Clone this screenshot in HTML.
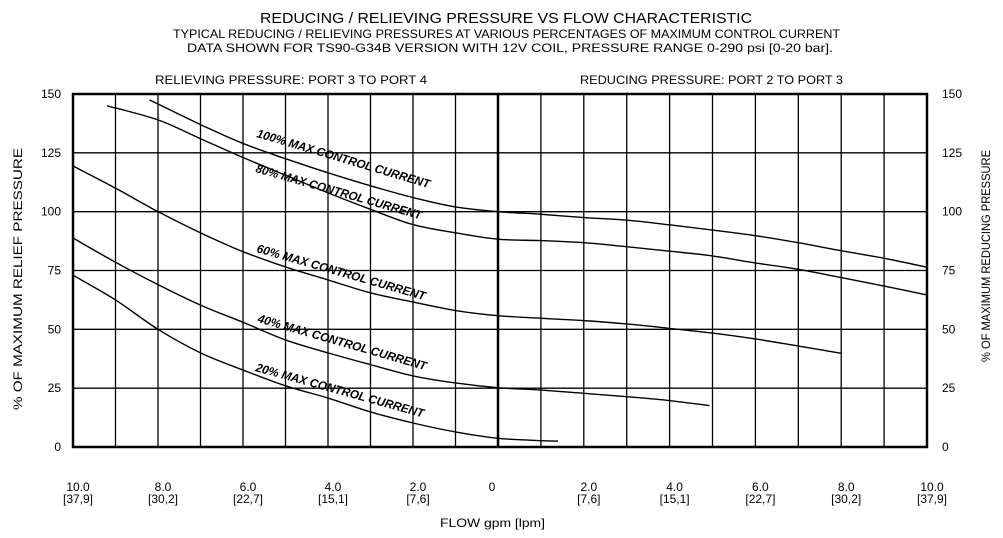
<!DOCTYPE html>
<html><head><meta charset="utf-8"><style>
html,body{margin:0;padding:0;background:#fff}
svg{display:block}
text{font-family:"Liberation Sans",sans-serif;fill:#000}
</style></head><body>
<svg id="chart" width="1003" height="538" viewBox="0 0 1003 538" xmlns="http://www.w3.org/2000/svg">
<text x="260" y="23" font-size="15" textLength="492" lengthAdjust="spacingAndGlyphs">REDUCING / RELIEVING PRESSURE VS FLOW CHARACTERISTIC</text>
<text x="173" y="38" font-size="12" textLength="667" lengthAdjust="spacingAndGlyphs">TYPICAL REDUCING / RELIEVING PRESSURES AT VARIOUS PERCENTAGES OF MAXIMUM CONTROL CURRENT</text>
<text x="187" y="52" font-size="12" textLength="646" lengthAdjust="spacingAndGlyphs">DATA SHOWN FOR TS90-G34B VERSION WITH 12V COIL, PRESSURE RANGE 0-290 psi [0-20 bar].</text>
<text x="155" y="84" font-size="12" textLength="272" lengthAdjust="spacingAndGlyphs">RELIEVING PRESSURE: PORT 3 TO PORT 4</text>
<text x="580" y="84" font-size="12" textLength="263" lengthAdjust="spacingAndGlyphs">REDUCING PRESSURE: PORT 2 TO PORT 3</text>
<g id="grid"></g>
<g id="axes"></g>
<g id="series"></g>
<text font-size="12" font-weight="bold" font-style="italic" transform="translate(256,137) rotate(16.5)" textLength="180" lengthAdjust="spacingAndGlyphs">100% MAX CONTROL CURRENT</text>
<text font-size="12" font-weight="bold" font-style="italic" transform="translate(255,172) rotate(16)" textLength="172" lengthAdjust="spacingAndGlyphs">80% MAX CONTROL CURRENT</text>
<text font-size="12" font-weight="bold" font-style="italic" transform="translate(256,252) rotate(16)" textLength="175" lengthAdjust="spacingAndGlyphs">60% MAX CONTROL CURRENT</text>
<text font-size="12" font-weight="bold" font-style="italic" transform="translate(257,322) rotate(16)" textLength="175" lengthAdjust="spacingAndGlyphs">40% MAX CONTROL CURRENT</text>
<text font-size="12" font-weight="bold" font-style="italic" transform="translate(255,371) rotate(15.5)" textLength="174" lengthAdjust="spacingAndGlyphs">20% MAX CONTROL CURRENT</text>
<text font-size="12" transform="translate(22,410) rotate(-90)" textLength="262" lengthAdjust="spacingAndGlyphs">% OF MAXIMUM RELIEF PRESSURE</text>
<text font-size="12" transform="translate(990,362) rotate(-90)" textLength="212" lengthAdjust="spacingAndGlyphs">% OF MAXIMUM REDUCING PRESSURE</text>
<text x="440" y="527" font-size="12" textLength="105" lengthAdjust="spacingAndGlyphs">FLOW gpm [lpm]</text>
</svg>
<script>
const yTicks = [0, 25, 50, 75, 100, 125, 150];
const xTickFlows = [10, 8, 6, 4, 2, 0];
const xTickLpm = ["[37,9]", "[30,2]", "[22,7]", "[15,1]", "[7,6]", ""];
// signed flow: negative = relieving side (left), positive = reducing side (right)
const flow100 = [-8.2, -7, -6, -5, -4, -3, -2, -1, 0, 1, 2, 3, 4, 5, 6, 7, 8, 9, 10];
const pct100 = [147.5, 137, 129, 122.5, 116.5, 111, 106, 102, 100, 98.9, 97.5, 96.4, 94.4, 92.2, 89.8, 86.8, 83.4, 80.2, 76.4];
const flow80 = [-9.2, -8, -7, -6, -5, -4, -3, -2, -1, 0, 1, 2, 3, 4, 5, 6, 7, 8, 9, 10];
const pct80 = [145, 139, 131, 123, 115.5, 108, 101, 94.5, 91, 88.3, 87.7, 86.8, 85.1, 83.2, 81.2, 78.2, 75.5, 72, 68.4, 64.6];
const flow60 = [-10, -9, -8, -7, -6, -5, -4, -3, -2, -1, 0, 1, 2, 3, 4, 5, 6, 7, 8];
const pct60 = [119.4, 110, 100, 91, 83, 76.5, 71, 65.5, 61.6, 58, 55.8, 54.7, 53.7, 52.3, 50.4, 48.4, 45.9, 42.9, 39.8];
const flow40 = [-10, -9, -8, -7, -6, -5, -4, -3, -2, -1, 0, 1, 2, 3, 4, 4.93];
const pct40 = [88.8, 78.5, 69, 60.3, 53, 45.5, 40, 35, 30.2, 27.2, 25.2, 24.2, 22.8, 21.4, 19.7, 17.6];
const flow20 = [-10, -9, -8, -7, -6, -5, -4, -3, -2, -1, 0, 1, 1.4];
const pct20 = [73, 62.5, 50, 40, 32.7, 26, 20.8, 14.9, 10.2, 6.4, 3.7, 2.7, 2.5];

const X0 = 498, LEFT = 73, RIGHT = 927, TOP = 94, BOT = 447;
function xs(f){ return f < 0 ? X0 + f * (X0 - LEFT) / 10 : X0 + f * (RIGHT - X0) / 10; }
function ys(v){ return BOT - v * (BOT - TOP) / 150; }
const NS = "http://www.w3.org/2000/svg";
function mk(tag, parent, attrs){ const e = document.createElementNS(NS, tag); for (const k in attrs) e.setAttribute(k, attrs[k]); parent.appendChild(e); return e; }

const grid = document.getElementById('grid');
for (let g = -9; g <= 9; g++) {
  if (g === 0) continue;
  const l = mk('line', grid, {x1: xs(g), x2: xs(g), y1: TOP, y2: BOT, stroke: '#000', 'stroke-width': 1.3});
  
  
}
yTicks.forEach(v => {
  if (v === 0 || v === 150) return;
  const l = mk('line', grid, {x1: LEFT, x2: RIGHT, y1: ys(v), y2: ys(v), stroke: '#000', 'stroke-width': 1.3});
  
  
});

const axes = document.getElementById('axes');
const frame = mk('rect', axes, {x: LEFT, y: TOP, width: RIGHT - LEFT, height: BOT - TOP, fill: 'none', stroke: '#000', 'stroke-width': 2.5});


const zl = mk('line', axes, {x1: xs(0), x2: xs(0), y1: TOP, y2: BOT, stroke: '#000', 'stroke-width': 2.5});



yTicks.forEach(v => {
  const t1 = mk('text', axes, {x: 61, y: ys(v) + 4, 'font-size': 12, 'text-anchor': 'end'});
  t1.textContent = String(v);
  
  
  const t2 = mk('text', axes, {x: 942, y: ys(v) + 4, 'font-size': 12});
  t2.textContent = String(v);
  
  
});
xTickFlows.forEach((f, i) => {
  [-1, 1].forEach(side => {
    if (f === 0 && side === 1) return;
    const x = xs(side * f) + (f === 0 ? -6 : side === 1 ? 5 : 5);
    const t = mk('text', axes, {x: x, y: 491, 'font-size': 12, 'text-anchor': 'middle'});
    t.textContent = f === 0 ? "0" : f.toFixed(1);
    
    
    if (xTickLpm[i]) {
      const t2 = mk('text', axes, {x: x, y: 503, 'font-size': 12, 'text-anchor': 'middle'});
      t2.textContent = xTickLpm[i];
      
      
    }
  });
});

const series = document.getElementById('series');
function curve(fl, pc, name){
  let d = '';
  for (let i = 0; i < fl.length; i++) {
    const x = xs(fl[i]), y = ys(pc[i]);
    if (i === 0) { d += 'M' + x + ' ' + y; continue; }
    const x0 = xs(fl[i-1]), y0 = ys(pc[i-1]);
    const xp = i > 1 ? xs(fl[i-2]) : x0, yp = i > 1 ? ys(pc[i-2]) : y0;
    const xn = i < fl.length - 1 ? xs(fl[i+1]) : x, yn = i < fl.length - 1 ? ys(pc[i+1]) : y;
    const c1x = x0 + (x - xp) / 6, c1y = y0 + (y - yp) / 6;
    const c2x = x - (xn - x0) / 6, c2y = y - (yn - y0) / 6;
    d += ' C' + c1x + ' ' + c1y + ' ' + c2x + ' ' + c2y + ' ' + x + ' ' + y;
  }
  const p = mk('path', series, {d: d, fill: 'none', stroke: '#000', 'stroke-width': 1.4});
  
  
}
curve(flow100, pct100, 'curve-100pct');
curve(flow80, pct80, 'curve-80pct');
curve(flow60, pct60, 'curve-60pct');
curve(flow40, pct40, 'curve-40pct');
curve(flow20, pct20, 'curve-20pct');
</script>
</body></html>
